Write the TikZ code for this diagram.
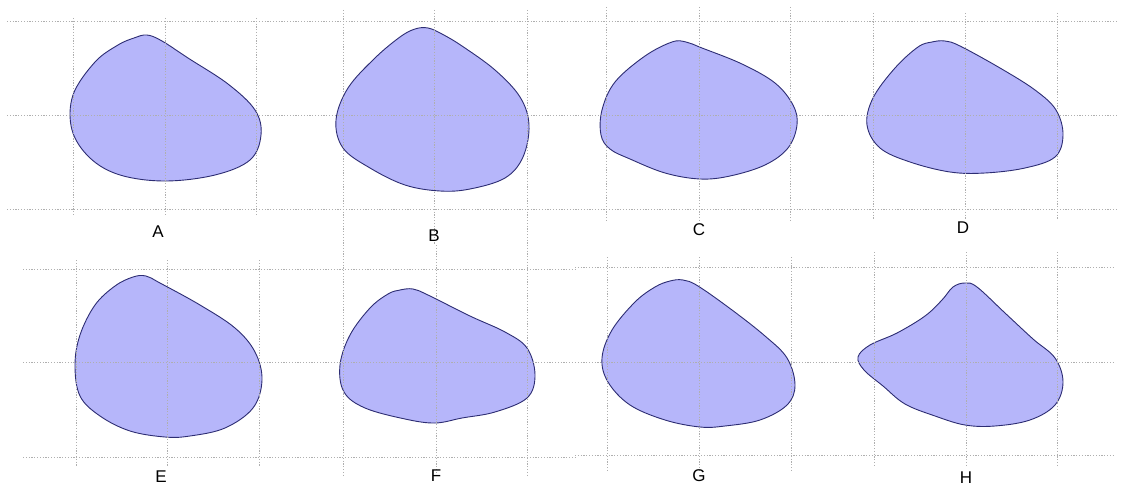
\documentclass[tikz,border=0pt]{standalone}
\usepackage{fontspec}
\setmainfont{Liberation Sans}
\definecolor{blobfill}{RGB}{182,182,250}
\definecolor{blobline}{RGB}{45,45,115}
\definecolor{gridgray}{RGB}{175,175,175}
\begin{document}
\begin{tikzpicture}[x=1pt,y=-1pt,
  blob/.style={fill=blobfill,draw=blobline,line width=0.9pt},
  gridln/.style={draw=gridgray,line width=0.8pt,dash pattern=on 1.2pt off 1.6pt},
  lbl/.style={font=\fontsize{17}{19}\selectfont,inner sep=0pt}]
\useasboundingbox (0,0) rectangle (1124,487);
% shapes
\path[blob] plot[smooth cycle,tension=0.6] coordinates {(147,35) (162,41) (188,58) (228,84) (255,110) (261,135) (250,160) (215,175) (165,181) (120,175) (90,158) (72,130) (73,95) (95,62) (118,45) (134,38)};
\path[blob] plot[smooth cycle,tension=0.6] coordinates {(428,28) (442,34) (462,46) (495,70) (520,97) (529,125) (523,157) (505,178) (470,189) (440,191) (405,185) (370,168) (343,148) (336,120) (348,88) (375,58) (400,37) (415,29)};
\path[blob] plot[smooth cycle,tension=0.6] coordinates {(686,42) (702,48) (742,64) (775,83) (793,105) (797,125) (788,148) (765,165) (730,176) (700,179) (665,173) (630,159) (610,149) (601,135) (602,110) (615,82) (645,56) (672,42)};
\path[blob] plot[smooth cycle,tension=0.6] coordinates {(945,41) (960,46) (1000,68) (1035,90) (1056,110) (1063,135) (1055,157) (1025,168) (985,173) (950,172) (910,162) (880,148) (867,125) (873,98) (895,68) (918,47) (932,42)};
\path[blob] plot[smooth cycle,tension=0.6] coordinates {(146,276) (160,283) (200,305) (235,328) (255,352) (262,380) (253,408) (225,428) (190,436) (165,437) (130,431) (100,416) (80,396) (75,365) (80,335) (95,305) (115,286) (133,277)};
\path[blob] plot[smooth cycle,tension=0.6] coordinates {(413,289) (428,295) (470,316) (505,332) (527,348) (535,375) (527,398) (495,412) (462,418) (435,423) (405,419) (365,408) (344,392) (340,365) (350,335) (370,308) (388,294) (400,290)};
\path[blob] plot[smooth cycle,tension=0.6] coordinates {(683,280) (698,286) (732,310) (765,336) (787,358) (795,385) (787,405) (760,420) (725,426) (700,427) (665,420) (630,405) (608,382) (602,358) (612,330) (635,302) (655,287) (670,281)};
\path[blob] plot[smooth cycle,tension=0.6] coordinates {(965,283) (977,287) (1005,313) (1033,339) (1055,358) (1063,382) (1055,405) (1030,420) (995,426) (965,425) (935,416) (905,404) (883,386) (864,370) (858,357) (870,345) (897,333) (925,316) (942,300) (953,287)};
% grid, top row
\foreach \yy in {21,115,209} \draw[gridln] (7,\yy) -- (1118,\yy);
\foreach \xx in {73,165,256} \draw[gridln] (\xx,18) -- (\xx,215);
\foreach \xx in {343,434,527} \draw[gridln] (\xx,10) -- (\xx,245);
\foreach \xx in {606,699,790} \draw[gridln] (\xx,7) -- (\xx,220);
\foreach \xx in {873,965,1057} \draw[gridln] (\xx,13) -- (\xx,220);
% grid, bottom row
\foreach \yy in {269,362,457} \draw[gridln] (23,\yy) -- (575,\yy);
\foreach \yy in {267,362,455} \draw[gridln] (575,\yy) -- (1113,\yy);
\foreach \xx in {76,167,259} \draw[gridln] (\xx,260) -- (\xx,467);
\foreach \xx in {343,436,527} \draw[gridln] (\xx,245) -- (\xx,475);
\foreach \xx in {607,699,791} \draw[gridln] (\xx,257) -- (\xx,472);
\foreach \xx in {874,966,1057} \draw[gridln] (\xx,252) -- (\xx,467);
% labels
\node[lbl] (la) at (158,232) {A};
\node[lbl] (lb) at (434,236) {B};
\node[lbl] (lc) at (699,230) {C};
\node[lbl] (ld) at (963,228) {D};
\node[lbl] (le) at (161,477) {E};
\node[lbl] (lf) at (436,476) {F};
\node[lbl] (lg) at (699,476) {G};
\node[lbl] (lh) at (966,478) {H};
\end{tikzpicture}
\end{document}
